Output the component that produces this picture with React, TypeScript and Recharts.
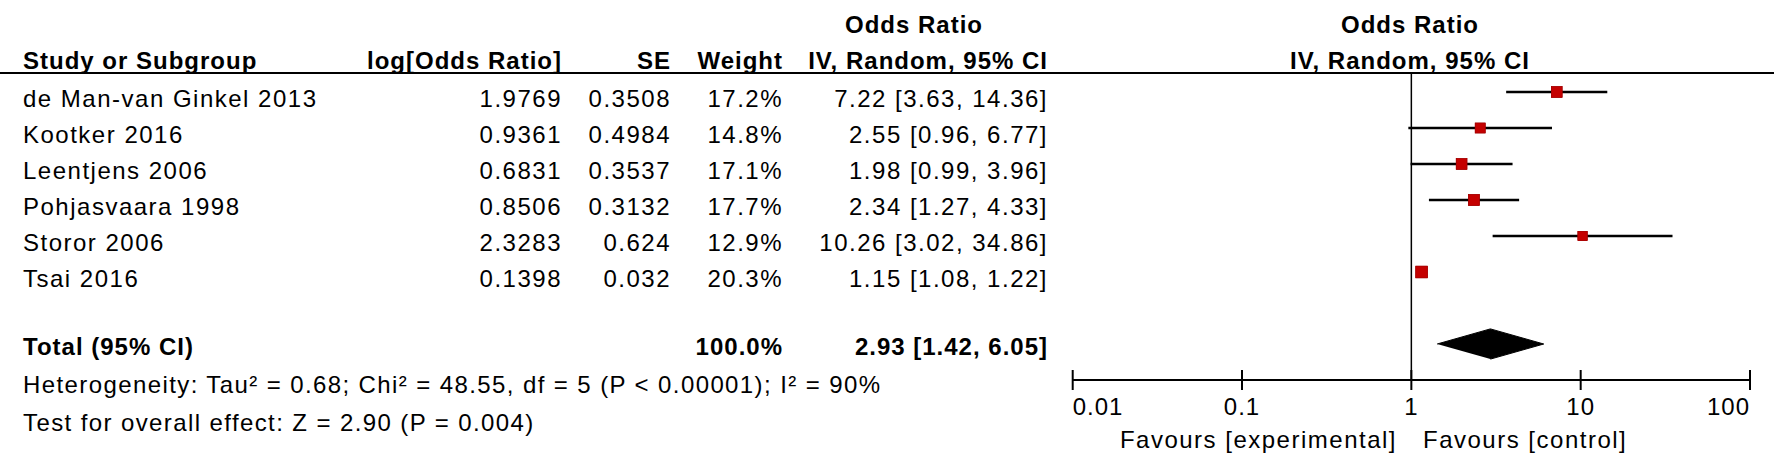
import React from 'react';
import { ComposedChart, Scatter, XAxis, YAxis, ErrorBar, ReferenceLine, Customized } from 'recharts';

// ---------- data ----------
const studies = ['de Man-van Ginkel 2013', 'Kootker 2016', 'Leentjens 2006', 'Pohjasvaara 1998', 'Storor 2006', 'Tsai 2016'];
const logOddsRatios = ['1.9769', '0.9361', '0.6831', '0.8506', '2.3283', '0.1398'];
const standardErrors = ['0.3508', '0.4984', '0.3537', '0.3132', '0.624', '0.032'];
const weights = [17.2, 14.8, 17.1, 17.7, 12.9, 20.3];
const oddsRatios = [7.22, 2.55, 1.98, 2.34, 10.26, 1.15];
const ciLower = [3.63, 0.96, 0.99, 1.27, 3.02, 1.08];
const ciUpper = [14.36, 6.77, 3.96, 4.33, 34.86, 1.22];
const studyRows = [1, 2, 3, 4, 5, 6];

const totalLabel = 'Total (95% CI)';
const totalWeight = 100.0;
const totalOR = 2.93;
const totalLower = 1.42;
const totalUpper = 6.05;
const totalRow = 8;

const heterogeneityText = 'Heterogeneity: Tau\u00B2 = 0.68; Chi\u00B2 = 48.55, df = 5 (P < 0.00001); I\u00B2 = 90%';
const overallEffectText = 'Test for overall effect: Z = 2.90 (P = 0.004)';

const axisTicks = [0.01, 0.1, 1, 10, 100];
const axisTickLabels = ['0.01', '0.1', '1', '10', '100'];
const favoursLeft = 'Favours [experimental]';
const favoursRight = 'Favours [control]';

// ---------- layout / style ----------
const W = 1774;
const H = 470;
const FONT = '"Liberation Sans", Arial, sans-serif';
const TEXT_DROP = 15;
const TOTAL_DROP = 11;
const DIAMOND_HALF = 0.42;
const SQUARE_COLOR = '#c40000';

const COL = { name: 23, logOR: 562, se: 671, weight: 783, or: 1048, orHeader: 914, plotCenter: 1410 };

const reg = { fontFamily: FONT, fontSize: 24, letterSpacing: 1.5, fill: '#000' } as const;
const bold = { fontFamily: FONT, fontSize: 24, fontWeight: 700, letterSpacing: 1, fill: '#000' } as const;

const fmtCI = (o: number, l: number, u: number) => `${o.toFixed(2)} [${l.toFixed(2)}, ${u.toFixed(2)}]`;

const studyData = studyRows.map((r, i) => ({
  x: oddsRatios[i],
  y: r,
  err: [oddsRatios[i] - ciLower[i], ciUpper[i] - oddsRatios[i]],
  weight: weights[i],
}));

const diamondData = [
  { x: totalLower, y: totalRow },
  { x: totalOR, y: totalRow - DIAMOND_HALF },
  { x: totalUpper, y: totalRow },
  { x: totalOR, y: totalRow + DIAMOND_HALF },
];

const RowTick = (props: any) => {
  const { y, payload } = props;
  const v = payload?.value;
  if (v === totalRow) {
    const tb = y + TOTAL_DROP;
    return (
      <g>
        <text x={COL.name} y={tb} {...bold} textAnchor="start">{totalLabel}</text>
        <text x={COL.weight} y={tb} {...bold} textAnchor="end">{totalWeight.toFixed(1)}%</text>
        <text x={COL.or} y={tb} {...bold} textAnchor="end">{fmtCI(totalOR, totalLower, totalUpper)}</text>
      </g>
    );
  }
  const base = y + TEXT_DROP;
  const i = studyRows.indexOf(v);
  if (i < 0) return <g />;
  return (
    <g>
      <text x={COL.name} y={base} {...reg} textAnchor="start">{studies[i]}</text>
      <text x={COL.logOR} y={base} {...reg} textAnchor="end">{logOddsRatios[i]}</text>
      <text x={COL.se} y={base} {...reg} textAnchor="end">{standardErrors[i]}</text>
      <text x={COL.weight} y={base} {...reg} textAnchor="end">{weights[i].toFixed(1)}%</text>
      <text x={COL.or} y={base} {...reg} textAnchor="end">{fmtCI(oddsRatios[i], ciLower[i], ciUpper[i])}</text>
    </g>
  );
};

const AxisTick = (props: any) => {
  const { x, y, index } = props;
  const anchor = index === 0 ? 'start' : index === axisTicks.length - 1 ? 'end' : 'middle';
  return (
    <g>
      <line x1={x} x2={x} y1={y - 10} y2={y + 10} stroke="#000" strokeWidth={2} />
      <text x={x} y={y + 35} textAnchor={anchor} fontFamily={FONT} fontSize={24} letterSpacing={1} fill="#000">
        {axisTickLabels[index]}
      </text>
    </g>
  );
};

const Square = (props: any) => {
  const { cx, cy, payload } = props;
  const s = 2.6 * Math.sqrt(payload.weight);
  return <rect x={cx - s / 2} y={cy - s / 2} width={s} height={s} fill={SQUARE_COLOR} stroke="#a00000" strokeWidth={0.6} />;
};

const Empty = () => <g />;

const StaticLayer = () => (
  <g>
    <line x1={0} x2={W} y1={73} y2={73} stroke="#000" strokeWidth={2} />
    <text x={COL.orHeader} y={33} {...bold} textAnchor="middle">Odds Ratio</text>
    <text x={COL.plotCenter} y={33} {...bold} textAnchor="middle">Odds Ratio</text>
    <text x={COL.name} y={69} {...bold} textAnchor="start">Study or Subgroup</text>
    <text x={COL.logOR} y={69} {...bold} textAnchor="end">log[Odds Ratio]</text>
    <text x={COL.se} y={69} {...bold} textAnchor="end">SE</text>
    <text x={COL.weight} y={69} {...bold} textAnchor="end">Weight</text>
    <text x={COL.or} y={69} {...bold} textAnchor="end">IV, Random, 95% CI</text>
    <text x={COL.plotCenter} y={69} {...bold} textAnchor="middle">IV, Random, 95% CI</text>
    <text x={COL.name} y={393} {...reg} letterSpacing={1.4} textAnchor="start">{heterogeneityText}</text>
    <text x={COL.name} y={431} {...reg} letterSpacing={1.4} textAnchor="start">{overallEffectText}</text>
    <text x={COL.plotCenter - 13} y={448} {...reg} textAnchor="end">{favoursLeft}</text>
    <text x={COL.plotCenter + 13} y={448} {...reg} textAnchor="start">{favoursRight}</text>
  </g>
);

export default function App() {
  return (
    <div style={{ width: W, height: H, background: '#fff' }}>
      <style>{'body{margin:0;background:#fff}'}</style>
      <ComposedChart width={W} height={H} margin={{ top: 74, right: 24, bottom: 0, left: 1000 }}>
        <XAxis
          type="number"
          dataKey="x"
          scale="log"
          domain={[0.01, 100]}
          ticks={axisTicks}
          allowDataOverflow
          height={90}
          axisLine={{ stroke: '#000', strokeWidth: 2 }}
          tickLine={false}
          tickSize={0}
          tickMargin={0}
          tick={<AxisTick />}
          interval={0}
        />
        <YAxis
          type="number"
          dataKey="y"
          domain={[0.5, 9]}
          reversed
          ticks={[...studyRows, totalRow]}
          width={72.7}
          axisLine={false}
          tickLine={false}
          tick={<RowTick />}
          interval={0}
        />
        <Customized component={StaticLayer} />
        <ReferenceLine x={1} stroke="#000" strokeWidth={1.5} ifOverflow="extendDomain" />
        <Scatter data={studyData} shape={<Square />} isAnimationActive={false}>
          <ErrorBar dataKey="err" direction="x" width={0} stroke="#000" strokeWidth={2.5} />
        </Scatter>
        <Scatter data={studyData} shape={<Square />} isAnimationActive={false} />
        <Scatter
          data={diamondData}
          shape={<Empty />}
          line={{ stroke: '#000', fill: '#000', strokeWidth: 1 }}
          lineType="joint"
          lineJointType="linear"
          isAnimationActive={false}
        />
      </ComposedChart>
    </div>
  );
}
